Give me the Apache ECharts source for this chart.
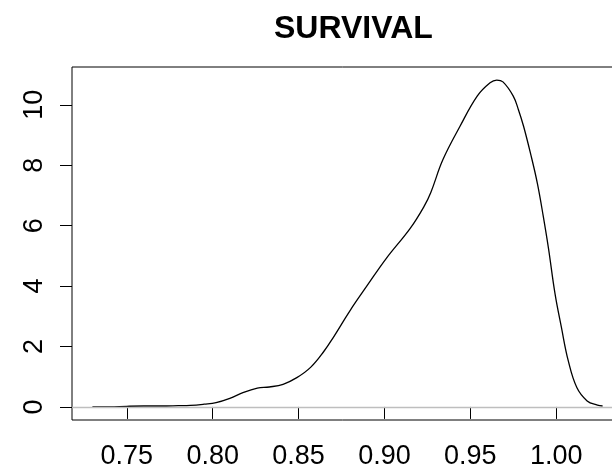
<!DOCTYPE html>
<html>
<head>
<meta charset="utf-8">
<script src="https://cdn.jsdelivr.net/npm/echarts@6/dist/echarts.min.js"></script>
<style>
  html, body { margin: 0; padding: 0; background: #ffffff; }
  #chart { width: 612px; height: 471px; }
</style>
</head>
<body>
<div id="chart"></div>
<script>
// Kernel density estimate of survival proportions
const survivalX = [
  0.730, 0.740, 0.750, 0.760, 0.770, 0.780, 0.787, 0.795, 0.802, 0.810,
  0.818, 0.826, 0.833, 0.841, 0.849, 0.857, 0.865, 0.870, 0.880, 0.890,
  0.901, 0.915, 0.923, 0.927, 0.934, 0.944, 0.954, 0.9615, 0.9654, 0.969,
  0.975, 0.978, 0.981, 0.985, 0.989, 0.9925, 0.9955, 0.9993, 1.003, 1.007,
  1.012, 1.018, 1.024, 1.027
];
const survivalDensity = [
  0.00, 0.00, 0.02, 0.03, 0.03, 0.04, 0.05, 0.09, 0.14, 0.28,
  0.48, 0.62, 0.66, 0.75, 0.97, 1.31, 1.86, 2.28, 3.19, 4.02,
  4.91, 5.91, 6.63, 7.10, 8.18, 9.29, 10.29, 10.73, 10.82, 10.76,
  10.29, 9.84, 9.29, 8.40, 7.41, 6.30, 5.25, 3.75, 2.64, 1.53,
  0.64, 0.20, 0.06, 0.03
];

// Tick positions
const xTicks = [0.75, 0.80, 0.85, 0.90, 0.95, 1.00];
const yTicks = [0, 2, 4, 6, 8, 10];

// Axis ranges: data range padded by 4% on each side
const xData0 = survivalX[0], xData1 = survivalX[survivalX.length - 1];
const xPad = (xData1 - xData0) * 0.04;
const yMaxData = Math.max(...survivalDensity);
const yPad = yMaxData * 0.04;

const FONT = '"Liberation Sans", Arial, Helvetica, sans-serif';

const chart = echarts.init(document.getElementById('chart'), null, { renderer: 'canvas' });

chart.setOption({
  backgroundColor: '#ffffff',
  animation: false,
  title: {
    text: 'SURVIVAL',
    left: 269,
    top: 8,
    textStyle: { fontFamily: FONT, fontSize: 32, fontWeight: 'bold', color: '#000' }
  },
  grid: {
    left: 72,
    top: 67,
    width: 551,
    height: 353,
    outerBoundsMode: 'none',
    containLabel: false,
    show: true,
    borderColor: '#000',
    borderWidth: 1,
    backgroundColor: 'transparent'
  },
  xAxis: {
    type: 'value',
    min: xData0 - xPad,
    max: xData1 + xPad,
    splitLine: { show: false },
    axisLine: { show: false },
    axisTick: {
      show: true, inside: false, length: 12,
      customValues: xTicks,
      lineStyle: { color: '#000', width: 1 }
    },
    axisLabel: {
      show: true,
      customValues: xTicks,
      margin: 23,
      fontFamily: FONT, fontSize: 27, color: '#000',
      formatter: v => v.toFixed(2)
    }
  },
  yAxis: {
    type: 'value',
    min: -yPad,
    max: yMaxData + yPad,
    splitLine: { show: false },
    axisLine: { show: false },
    axisTick: {
      show: true, inside: false, length: 12,
      customValues: yTicks,
      lineStyle: { color: '#000', width: 1 }
    },
    axisLabel: {
      show: true,
      customValues: yTicks,
      rotate: 90,
      margin: 24,
      fontFamily: FONT, fontSize: 27, color: '#000',
      formatter: v => String(v)
    }
  },
  series: [{
    type: 'line',
    data: survivalX.map((x, i) => [x, survivalDensity[i]]),
    smooth: 0.4,
    showSymbol: false,
    clip: true,
    lineStyle: { color: '#000', width: 1.3 },
    markLine: {
      silent: true,
      symbol: ['none', 'none'],
      label: { show: false },
      lineStyle: { color: '#bebebe', type: 'solid', width: 1.3 },
      data: [{ yAxis: 0 }]
    },
    z: 3
  }]
});
</script>
</body>
</html>
